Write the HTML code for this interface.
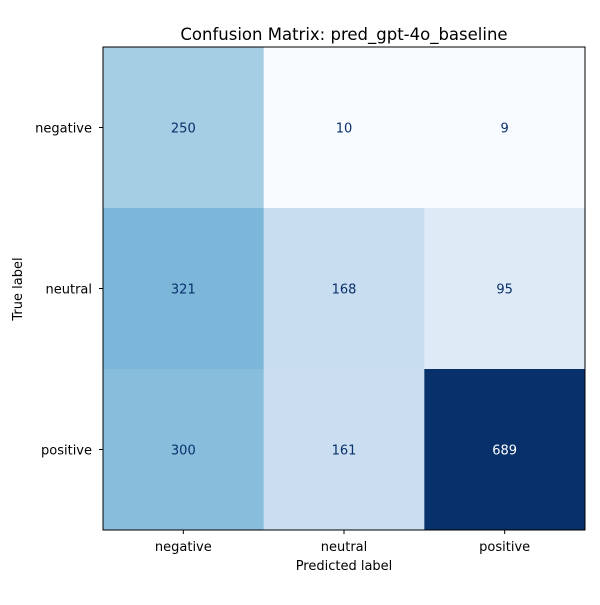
<!DOCTYPE html>
<html><head><meta charset="utf-8"><style>
body{margin:0;background:#fff;}
svg text{font-family:"DejaVu Sans","Liberation Sans",sans-serif;}
</style></head><body>
<svg id="chart" width="600" height="600" xmlns="http://www.w3.org/2000/svg">
<rect width="600" height="600" fill="#fff"/>
<text x="344" y="40" font-size="16.5" text-anchor="middle" fill="#000">Confusion Matrix: pred_gpt-4o_baseline</text>
<g id="cells"></g>
<g id="axes"></g>
<text x="344" y="570" font-size="13" text-anchor="middle">Predicted label</text>
<text transform="translate(22,289) rotate(-90)" font-size="13" text-anchor="middle">True label</text>
</svg>
<script>
const predLabels = ["negative","neutral","positive"];
const trueLabels = ["negative","neutral","positive"];
const rowNegative = [250,10,9];
const rowNeutral = [321,168,95];
const rowPositive = [300,161,689];
const matrix = [rowNegative,rowNeutral,rowPositive];

const X0=103, Y0=47, W=482, H=483;
const cw=W/predLabels.length, ch=H/trueLabels.length;
const xPos=i=>X0+i*cw, yPos=j=>Y0+j*ch;
const stops=["#f7fbff","#deebf7","#c6dbef","#9ecae1","#6baed6","#4292c6","#2171b5","#08519c","#08306b"];
function hx(c){return [1,3,5].map(k=>parseInt(c.substr(k,2),16));}
const flat=matrix.flat(), vmin=Math.min(...flat), vmax=Math.max(...flat);
function color(v){
  let t=(v-vmin)/(vmax-vmin); t=Math.max(0,Math.min(1,t));
  const p=t*(stops.length-1), i=Math.min(Math.floor(p),stops.length-2), f=p-i;
  const a=hx(stops[i]), b=hx(stops[i+1]);
  return "rgb("+a.map((x,k)=>Math.round(x+(b[k]-x)*f)).join(",")+")";
}
const NS="http://www.w3.org/2000/svg";
const cells=document.getElementById("cells"), axes=document.getElementById("axes");
matrix.forEach((row,j)=>row.forEach((v,i)=>{
  const r=document.createElementNS(NS,"rect");
  r.setAttribute("x",xPos(i));r.setAttribute("y",yPos(j));
  r.setAttribute("width",cw+0.5);r.setAttribute("height",ch+0.5);
  r.setAttribute("fill",color(v));
  
  
  cells.appendChild(r);
  const t=document.createElementNS(NS,"text");
  t.setAttribute("x",xPos(i)+cw/2);t.setAttribute("y",yPos(j)+ch/2+5);
  t.setAttribute("text-anchor","middle");t.setAttribute("font-size","13");
  t.setAttribute("fill",(v-vmin)/(vmax-vmin)>0.5?"#fff":"#08306b");
  t.textContent=v;
  
  
  cells.appendChild(t);
}));
const frame=document.createElementNS(NS,"rect");
frame.setAttribute("x",X0);frame.setAttribute("y",Y0);frame.setAttribute("width",W);frame.setAttribute("height",H);
frame.setAttribute("fill","none");frame.setAttribute("stroke","#000");frame.setAttribute("stroke-width","1");


axes.appendChild(frame);
predLabels.forEach((l,i)=>{
  const x=xPos(i)+cw/2;
  const tk=document.createElementNS(NS,"line");
  tk.setAttribute("x1",x);tk.setAttribute("x2",x);tk.setAttribute("y1",Y0+H);tk.setAttribute("y2",Y0+H+4);tk.setAttribute("stroke","#000");
  
  
  axes.appendChild(tk);
  const t=document.createElementNS(NS,"text");
  t.setAttribute("x",x);t.setAttribute("y",Y0+H+21);t.setAttribute("text-anchor","middle");t.setAttribute("font-size","13");
  t.textContent=l;
  
  
  axes.appendChild(t);
});
trueLabels.forEach((l,j)=>{
  const y=yPos(j)+ch/2;
  const tk=document.createElementNS(NS,"line");
  tk.setAttribute("x1",X0-4);tk.setAttribute("x2",X0);tk.setAttribute("y1",y);tk.setAttribute("y2",y);tk.setAttribute("stroke","#000");
  
  
  axes.appendChild(tk);
  const t=document.createElementNS(NS,"text");
  t.setAttribute("x",X0-11);t.setAttribute("y",y+5);t.setAttribute("text-anchor","end");t.setAttribute("font-size","13");
  t.textContent=l;
  
  
  axes.appendChild(t);
});
</script>
</body></html>
